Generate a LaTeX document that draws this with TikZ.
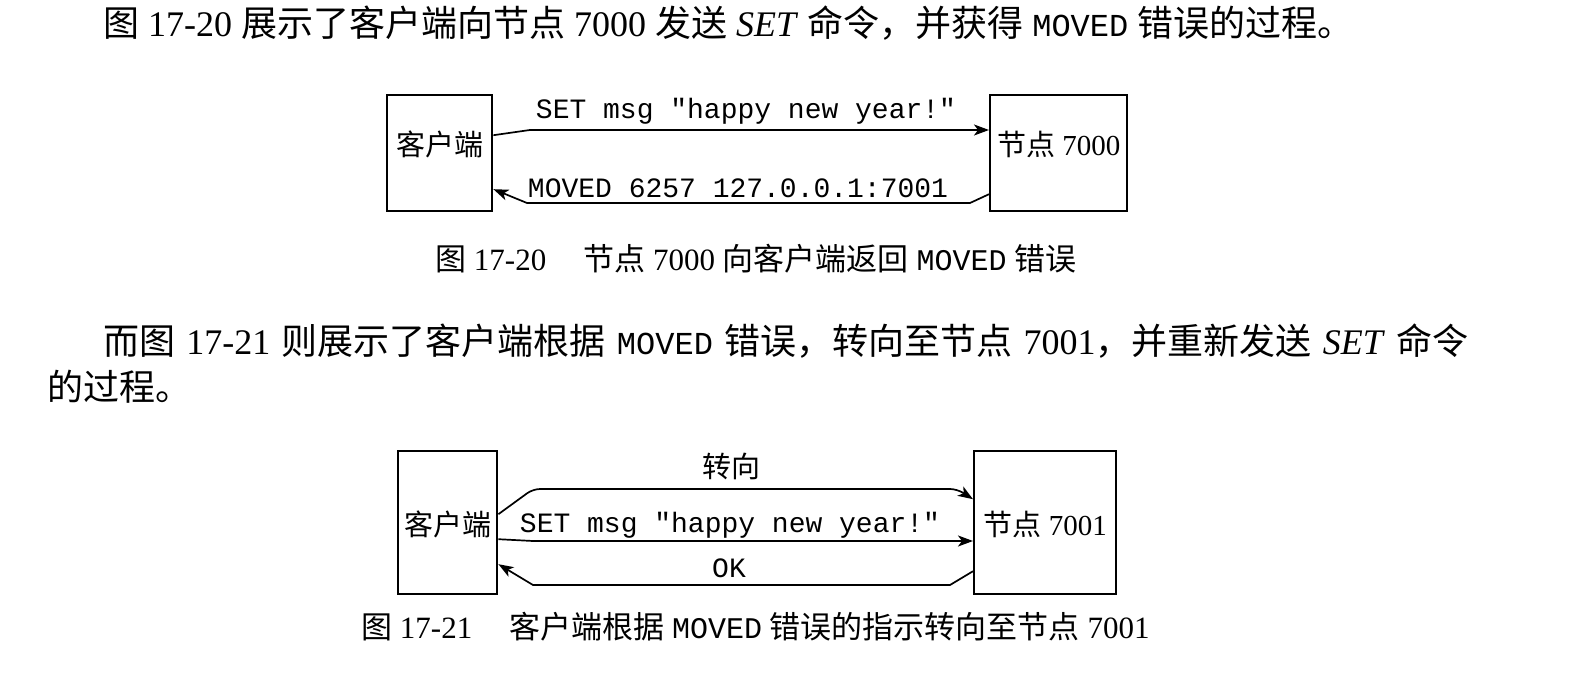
\documentclass[tikz,border=0pt]{standalone}
\usepackage{fontspec}
\setmainfont{Liberation Serif}
\setmonofont{Liberation Mono}
\newfontfamily\cjk{Noto Sans CJK SC}
\newcommand\zh[1]{{\cjk #1}}
\usetikzlibrary{arrows.meta}

\begin{document}
\begin{tikzpicture}[x=1pt,y=-1pt,
  para/.style={anchor=base west,inner sep=0pt,font=\fontsize{36}{40}\selectfont},
  capt/.style={anchor=base west,inner sep=0pt,font=\fontsize{31}{36}\selectfont},
  box/.style={draw,line width=2.4pt,inner sep=0pt,anchor=north west,font=\fontsize{29}{32}\selectfont},
  lbl/.style={anchor=base,inner sep=0pt,font=\fontsize{28}{32}\selectfont\ttfamily},
  msg/.style={line width=1.7pt,-{Stealth[length=15pt,width=11pt,inset=4pt]}}]
\useasboundingbox (0,0) rectangle (1582,682);

% first paragraph
\node[para] (p1) at (103,37) {\zh{图} 17-20 \zh{展示了客户端向节点} 7000 \zh{发送} \textit{SET} \zh{命令，并获得} {\ttfamily\fontsize{32}{36}\selectfont MOVED} \zh{错误的过程。}};

% figure 17-20
\node[box,minimum width=105pt,text height=60pt,text depth=56pt] (cli1) at (386,94) {\zh{客户端}};
\node[box,minimum width=137pt,text height=60pt,text depth=56pt] (srv1) at (989,94) {\zh{节点} 7000};
\node[lbl] (setmsg1) at (746,119) {SET msg "happy new year!"};
\node[lbl] (moved1) at (738,197) {MOVED 6257 127.0.0.1:7001};
\draw[msg] ([yshift=18pt]cli1.east) -- (530,130) -- (srv1.west |- 0,130);
\draw[msg] ([yshift=-41pt]srv1.west) -- (970,203) -- (527,203) -- ([yshift=-36pt]cli1.east);
\node[capt] (cap1) at (435,270) {\zh{图} 17-20\hspace{1.2em}\zh{节点} 7000 \zh{向客户端返回} {\ttfamily\fontsize{30}{36}\selectfont MOVED} \zh{错误}};

% second paragraph
\node[para] (p2) at (103,354) {\makebox[1365pt][s]{\zh{而图} 17-21 \zh{则展示了客户端根据} {\ttfamily\fontsize{32}{36}\selectfont MOVED} \zh{错误，转向至节点} 7001\zh{，并重新发送} \textit{SET} \zh{命令}}};
\node[para] (p3) at (47,400) {\zh{的过程。}};

% figure 17-21
\node[box,minimum width=99pt,text height=84pt,text depth=59pt] (cli2) at (397,450) {\zh{客户端}};
\node[box,minimum width=142pt,text height=84pt,text depth=59pt] (srv2) at (973,450) {\zh{节点} 7001};
\node[lbl,font=\fontsize{29}{32}\selectfont] (redir) at (731,477) {\zh{转向}};
\node[lbl] (setmsg2) at (730,532) {SET msg "happy new year!"};
\node[lbl] (ok2) at (729,577) {OK};
\draw[msg,rounded corners=7pt] ([yshift=8.5pt]cli2.east) -- (533,489) -- (957,489) -- ([yshift=23.5pt]srv2.west);
\draw[msg] ([yshift=-16.5pt]cli2.east) -- (533,541) -- (srv2.west |- 0,541);
\draw[msg] ([yshift=-48.5pt]srv2.west) -- (950,585) -- (533,585) -- ([yshift=-41.5pt]cli2.east);
\node[capt] (cap2) at (361,638) {\zh{图} 17-21\hspace{1.2em}\zh{客户端根据} {\ttfamily\fontsize{30}{36}\selectfont MOVED} \zh{错误的指示转向至节点} 7001};
\end{tikzpicture}
\end{document}
